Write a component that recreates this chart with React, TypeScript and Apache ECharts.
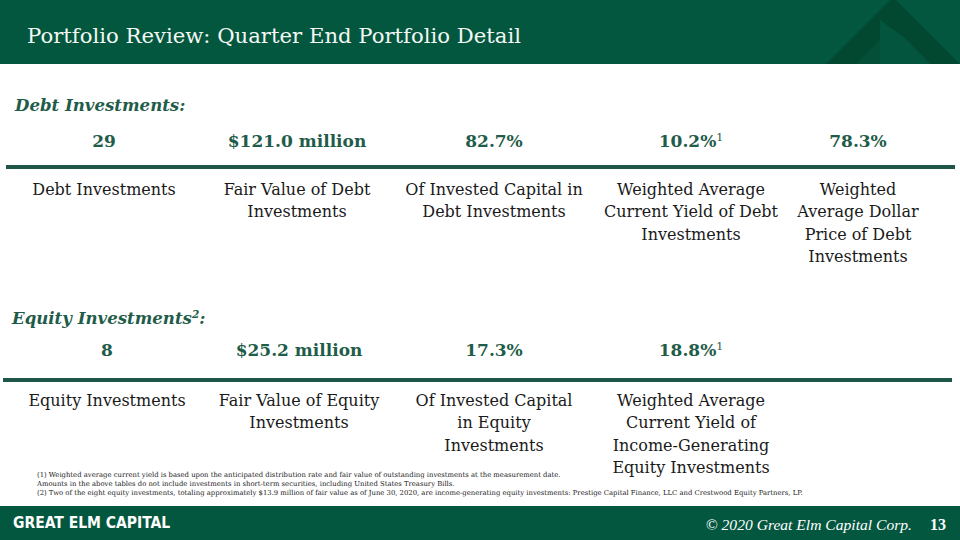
import React, { useEffect, useRef } from "react";
import * as echarts from "echarts";

const pageTitle = "Portfolio Review: Quarter End Portfolio Detail";
const debtHeading = "Debt Investments:";
const debtValues = ["29", "$121.0 million", "82.7%", "10.2%", "78.3%"];
const debtValueNotes = ["", "", "", "1", ""];
const debtLabels = [
  ["Debt Investments"],
  ["Fair Value of Debt", "Investments"],
  ["Of Invested Capital in", "Debt Investments"],
  ["Weighted Average", "Current Yield of Debt", "Investments"],
  ["Weighted", "Average Dollar", "Price of Debt", "Investments"],
];
const equityHeading = "Equity Investments";
const equityHeadingNote = "2";
const equityValues = ["8", "$25.2 million", "17.3%", "18.8%"];
const equityValueNotes = ["", "", "", "1"];
const equityLabels = [
  ["Equity Investments"],
  ["Fair Value of Equity", "Investments"],
  ["Of Invested Capital", "in Equity", "Investments"],
  ["Weighted Average", "Current Yield of", "Income-Generating", "Equity Investments"],
];
const footnotes = [
  "(1) Weighted average current yield is based upon the anticipated distribution rate and fair value of outstanding investments at the measurement date.",
  "Amounts in the above tables do not include investments in short-term securities, including United States Treasury Bills.",
  "(2) Two of the eight equity investments, totaling approximately $13.9 million of fair value as of June 30, 2020, are income-generating equity investments: Prestige Capital Finance, LLC and Crestwood Equity Partners, LP.",
];
const footerBrand = "GREAT ELM CAPITAL";
const footerCopyright = "© 2020 Great Elm Capital Corp.";
const pageNumber = "13";

const GREEN = "#03573f";
const DARK_GREEN = "#024831";
const TEXT_GREEN = "#1f5c49";
const SERIF = "'DejaVu Serif', serif";
const SERIF_NARROW = "'Liberation Serif', serif";

const debtCols = [104, 297, 494, 691, 858];
const equityCols = [107, 299, 494, 691];

function valueText(v: string, note: string, x: number, y: number) {
  return {
    type: "text",
    x,
    y,
    style: {
      text: note ? `{v|${v}}{s|${note}}` : `{v|${v}}`,
      align: "center",
      verticalAlign: "middle",
      rich: {
        v: { fontFamily: SERIF, fontSize: 17, fontWeight: "bold", fill: TEXT_GREEN },
        s: { fontFamily: SERIF, fontSize: 11, fill: TEXT_GREEN, verticalAlign: "top", padding: [0, 0, 8, 0] },
      },
    },
  };
}

function labelTexts(lines: string[], x: number, y0: number) {
  return lines.map((t, i) => ({
    type: "text",
    x,
    y: y0 + i * 22.6,
    style: {
      text: t,
      align: "center",
      verticalAlign: "middle",
      fontFamily: SERIF,
      fontSize: 16,
      fill: "#1a1a1a",
    },
  }));
}

export default function App() {
  const ref = useRef<HTMLDivElement>(null);
  useEffect(() => {
    if (!ref.current) return;
    const chart = echarts.init(ref.current, null, { renderer: "svg" });
    const elements: any[] = [];
    // header band
    elements.push({ type: "rect", shape: { x: 0, y: 0, width: 960, height: 64 }, style: { fill: GREEN } });
    // logo chevron
    elements.push({ type: "polygon", shape: { points: [[826, 64], [893, -3], [960, 64]] }, style: { fill: DARK_GREEN } });
    elements.push({ type: "polygon", shape: { points: [[880, 64], [880, 20], [905, 38], [930, 64]] }, style: { fill: "#04553d" } });
    elements.push({ type: "polygon", shape: { points: [[856, 64], [880, 40], [880, 64]] }, style: { fill: "#034f38" } });
    elements.push({
      type: "text",
      x: 27,
      y: 35,
      style: { text: pageTitle, fontFamily: SERIF, fontSize: 21.2, fill: "#f4f7f4", verticalAlign: "middle" },
    });
    // debt section
    elements.push({
      type: "text",
      x: 15,
      y: 105,
      style: { text: debtHeading, fontFamily: SERIF, fontSize: 16.6, fontStyle: "italic", fontWeight: "bold", fill: TEXT_GREEN, verticalAlign: "middle" },
    });
    debtValues.forEach((v, i) => elements.push(valueText(v, debtValueNotes[i], debtCols[i], 141)));
    elements.push({ type: "rect", shape: { x: 6, y: 165, width: 949, height: 4 }, style: { fill: "#1e5747" } });
    debtLabels.forEach((l, i) => elements.push(...labelTexts(l, debtCols[i], 189)));
    // equity section
    elements.push({
      type: "text",
      x: 12,
      y: 318,
      style: {
        text: `{h|${equityHeading}}{s|${equityHeadingNote}}{h|:}`,
        verticalAlign: "middle",
        rich: {
          h: { fontFamily: SERIF, fontSize: 16.6, fontStyle: "italic", fontWeight: "bold", fill: TEXT_GREEN },
          s: { fontFamily: SERIF, fontSize: 10.5, fontStyle: "italic", fontWeight: "bold", fill: TEXT_GREEN, verticalAlign: "top", padding: [0, 0, 8, 0] },
        },
      },
    });
    equityValues.forEach((v, i) => elements.push(valueText(v, equityValueNotes[i], equityCols[i], 350)));
    elements.push({ type: "rect", shape: { x: 3, y: 378, width: 949, height: 4 }, style: { fill: "#1e5747" } });
    equityLabels.forEach((l, i) => elements.push(...labelTexts(l, equityCols[i], 400)));
    // footnotes
    footnotes.forEach((f, i) =>
      elements.push({
        type: "text",
        x: 37,
        y: [475, 484, 493][i],
        style: { text: f, fontFamily: SERIF, fontSize: 6.85, fill: "#222", verticalAlign: "middle" },
      })
    );
    // footer
    elements.push({ type: "rect", shape: { x: 0, y: 506, width: 960, height: 34 }, style: { fill: GREEN } });
    elements.push({
      type: "text",
      x: 13,
      y: 523,
      style: { text: footerBrand, fontFamily: "'DejaVu Sans Condensed', 'DejaVu Sans', sans-serif", fontWeight: "bold", fontSize: 15.5, fill: "#ffffff", verticalAlign: "middle" },
    });
    elements.push({
      type: "text",
      x: 912,
      y: 524,
      style: { text: footerCopyright, fontFamily: SERIF_NARROW, fontStyle: "italic", fontSize: 15.6, fill: "#ffffff", align: "right", verticalAlign: "middle" },
    });
    elements.push({
      type: "text",
      x: 938,
      y: 524,
      style: { text: pageNumber, fontFamily: SERIF_NARROW, fontWeight: "bold", fontSize: 16, fill: "#ffffff", align: "center", verticalAlign: "middle" },
    });
    chart.setOption({ animation: false, backgroundColor: "#ffffff", graphic: { elements } });
    return () => chart.dispose();
  }, []);
  return <div ref={ref} style={{ position: "fixed", left: 0, top: 0, width: 960, height: 540 }} />;
}
